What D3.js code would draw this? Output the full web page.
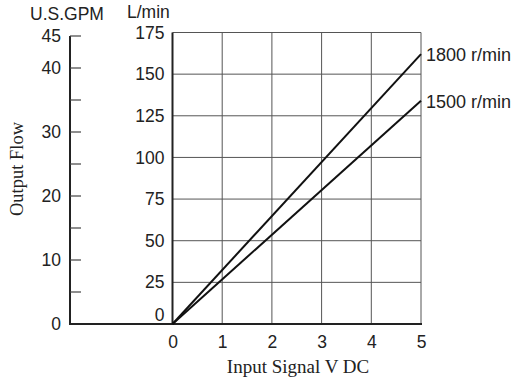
<!DOCTYPE html>
<html>
<head>
<meta charset="utf-8">
<script src="https://cdn.jsdelivr.net/npm/d3@7"></script>
<style>
  body { margin: 0; background: #fff; }
  svg text { fill: #222; }
</style>
</head>
<body>
<div id="corpo"></div>
<script>
// data
var volts = [0, 5];
var flow1800 = [0, 162];   // L/min
var flow1500 = [0, 134];   // L/min
var seriesNames = ["1800 r/min", "1500 r/min"];
var voltTicks = [0, 1, 2, 3, 4, 5];
var lminTicks = [0, 25, 50, 75, 100, 125, 150, 175];
var gpmTicks = [0, 10, 20, 30, 40, 45];
var gpmMinor = [5, 15, 25, 35];

var width = 523, height = 380;

var x = d3.scaleLinear().domain([0, 5]).range([172.5, 421]);
var yL = d3.scaleLinear().domain([0, 175]).range([324, 32.5]);
var yG = d3.scaleLinear().domain([0, 45]).range([324, 36]);
var gpmX = 70;

var svg = d3.select("#corpo").append("svg")
    .attr("width", width)
    .attr("height", height)
    .style("font-family", "'Liberation Sans', Arial, sans-serif");

// grid
var grid = svg.append("g").attr("stroke", "#555").attr("stroke-width", 1);
grid.selectAll(".hg").data(lminTicks.slice(1)).enter().append("line")
    .attr("x1", x(0)).attr("x2", x(5))
    .attr("y1", function(d) { return yL(d); })
    .attr("y2", function(d) { return yL(d); });
grid.selectAll(".vg").data(voltTicks.slice(1)).enter().append("line")
    .attr("x1", function(d) { return x(d); })
    .attr("x2", function(d) { return x(d); })
    .attr("y1", yL(0)).attr("y2", yL(175));

// L/min axis
svg.append("g")
    .attr("transform", "translate(" + x(0) + ",0)")
    .call(d3.axisLeft(yL).tickValues(lminTicks).tickSize(0).tickPadding(8))
    .call(function(g) {
        g.select(".domain").remove();
        g.selectAll("text").style("font-size", "17.5px").attr("fill", "#222");
        // zero label sits above the baseline
        g.selectAll(".tick").filter(function(d) { return d === 0; })
            .select("text").attr("dy", "-0.2em");
    });
svg.append("line")
    .attr("x1", x(0)).attr("x2", x(0))
    .attr("y1", yL(0) + 1).attr("y2", yL(175))
    .attr("stroke", "#222").attr("stroke-width", 2);

// U.S.GPM axis
var gAx = svg.append("g").attr("transform", "translate(" + gpmX + ",0)");
gAx.append("line")
    .attr("x1", 0).attr("x2", 0)
    .attr("y1", yG(0) + 1).attr("y2", yG(45))
    .attr("stroke", "#222").attr("stroke-width", 2);
gAx.selectAll(".mj").data(gpmTicks.concat(gpmMinor)).enter().append("line")
    .attr("x1", 0).attr("x2", 11)
    .attr("y1", function(d) { return yG(d); })
    .attr("y2", function(d) { return yG(d); })
    .attr("stroke", "#444").attr("stroke-width", 1.2);
gAx.selectAll(".lb").data(gpmTicks).enter().append("text")
    .attr("x", -9)
    .attr("y", function(d) { return yG(d); })
    .attr("dy", "0.35em")
    .attr("text-anchor", "end")
    .style("font-size", "17.5px")
    .text(function(d) { return d; });

// baseline
svg.append("line")
    .attr("x1", gpmX - 1).attr("x2", x(5) + 1)
    .attr("y1", yL(0)).attr("y2", yL(0))
    .attr("stroke", "#222").attr("stroke-width", 2.2);

// x axis labels
svg.append("g")
    .attr("transform", "translate(0," + yL(0) + ")")
    .call(d3.axisBottom(x).tickValues(voltTicks).tickFormat(d3.format("d"))
        .tickSize(0).tickPadding(12))
    .call(function(g) {
        g.select(".domain").remove();
        g.selectAll("text").style("font-size", "17.5px").attr("fill", "#222");
    });

// unit headers
svg.append("text").attr("x", 30).attr("y", 20).style("font-size", "17.5px").text("U.S.GPM");
svg.append("text").attr("x", 127).attr("y", 18).style("font-size", "17.5px").text("L/min");

// axis titles
svg.append("text")
    .attr("transform", "translate(23,169) rotate(-90)")
    .attr("text-anchor", "middle")
    .style("font-family", "'Liberation Serif', 'Times New Roman', serif")
    .style("font-size", "18.5px")
    .text("Output Flow");
svg.append("text")
    .attr("x", 298).attr("y", 373)
    .attr("text-anchor", "middle")
    .style("font-family", "'Liberation Serif', 'Times New Roman', serif")
    .style("font-size", "19px")
    .text("Input Signal V DC");

// flow lines
var line = d3.line()
    .x(function(d) { return x(d[0]); })
    .y(function(d) { return yL(d[1]); });
var series = [flow1800, flow1500].map(function(vals, i) {
    return { name: seriesNames[i], pts: volts.map(function(v, j) { return [v, vals[j]]; }) };
});
svg.selectAll(".flow").data(series).enter().append("path")
    .attr("d", function(d) { return line(d.pts); })
    .attr("fill", "none")
    .attr("stroke", "#111")
    .attr("stroke-width", 2);
svg.selectAll(".lbl").data(series).enter().append("text")
    .attr("x", x(5) + 5)
    .attr("y", function(d) { return yL(d.pts[d.pts.length - 1][1]); })
    .attr("dy", "0.4em")
    .style("font-size", "18px")
    .text(function(d) { return d.name; });
</script>
</body>
</html>
